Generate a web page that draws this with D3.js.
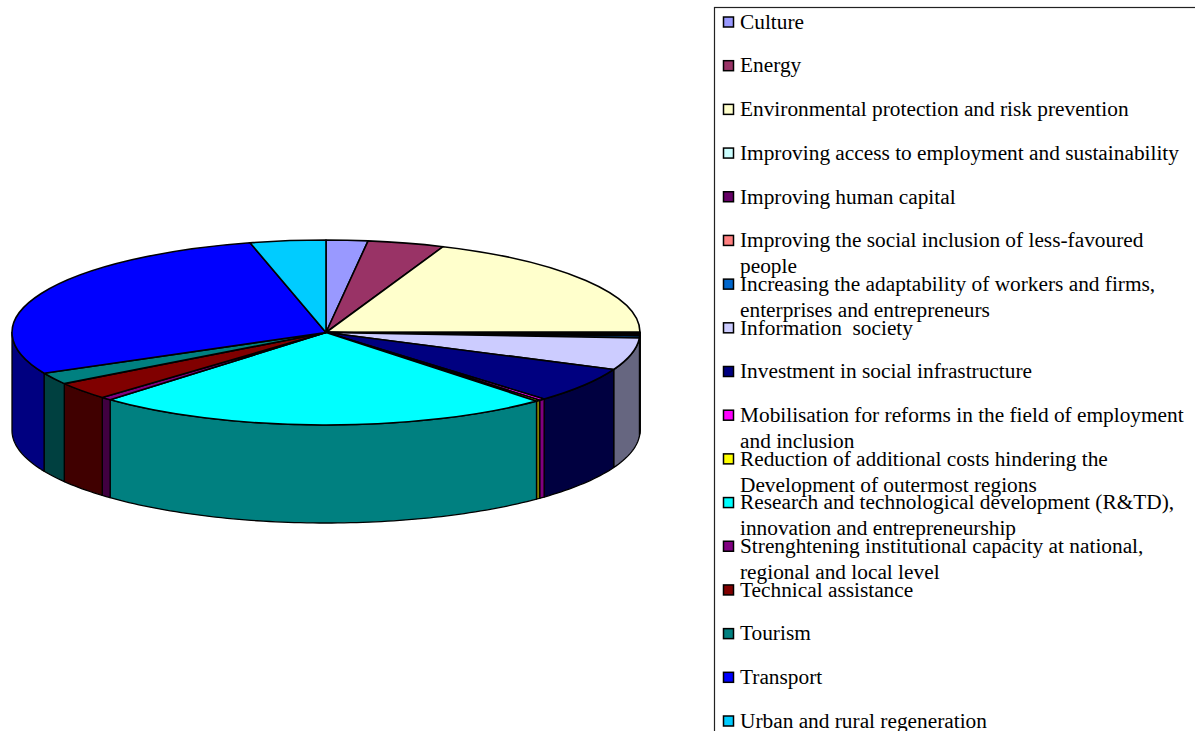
<!DOCTYPE html>
<html><head><meta charset="utf-8">
<script src="https://cdnjs.cloudflare.com/ajax/libs/d3/7.9.0/d3.min.js"></script>
<style>html,body{margin:0;padding:0;background:#fff;overflow:hidden}svg{display:block}</style>
</head><body><svg id="c" width="1195" height="731"></svg>
<script>
const categories = ["Culture","Energy","Environmental protection and risk prevention","Improving access to employment and sustainability","Improving human capital","Improving the social inclusion of less-favoured people","Increasing the adaptability of workers and firms, enterprises and entrepreneurs","Information  society","Investment in social infrastructure","Mobilisation for reforms in the field of employment and inclusion","Reduction of additional costs hindering the Development of outermost regions","Research and technological development (R&TD), innovation and entrepreneurship","Strenghtening institutional capacity at national, regional and local level","Technical assistance","Tourism","Transport","Urban and rural regeneration"];
const values = [2.14,3.94,18.86,0.16,0.32,0.16,0.36,5.61,6.22,0.31,0.22,23.75,0.56,3.06,2.06,28.36,3.89];
const topColors = ["#9999FF","#993366","#FFFFCC","#CCFFFF","#660066","#FF8080","#0066CC","#CCCCFF","#000080","#FF00FF","#FFFF00","#00FFFF","#800080","#800000","#008080","#0000FF","#00CCFF"];
const sideColors = ["#4D4D80","#4D1A33","#808066","#668080","#330033","#804040","#003366","#666680","#000040","#800080","#808000","#008080","#400040","#400000","#004040","#000080","#006680"];
const legendLines = [["Culture"],["Energy"],["Environmental protection and risk prevention"],["Improving access to employment and sustainability"],["Improving human capital"],["Improving the social inclusion of less-favoured","people"],["Increasing the adaptability of workers and firms,","enterprises and entrepreneurs"],["Information  society"],["Investment in social infrastructure"],["Mobilisation for reforms in the field of employment","and inclusion"],["Reduction of additional costs hindering the","Development of outermost regions"],["Research and technological development (R&TD),","innovation and entrepreneurship"],["Strenghtening institutional capacity at national,","regional and local level"],["Technical assistance"],["Tourism"],["Transport"],["Urban and rural regeneration"]];

const svg = d3.select("#c");
const cx=326, cy=332.5, rx=314, ry=92.5, depth=98;
const arcs = d3.pie().sort(null).value(d=>d)(values);
const px = a => cx + rx*Math.sin(a), py = a => cy - ry*Math.cos(a);
const arcGen = d3.arc().innerRadius(0).outerRadius(rx);

// side wall, visible between 90 and 270 degrees
const sideG = svg.append("g");
const lo=Math.PI/2, hi=3*Math.PI/2;
arcs.forEach((a,i)=>{
  const s=Math.max(a.startAngle,lo), e=Math.min(a.endAngle,hi);
  if(e<=s) return;
  const n=Math.max(2,Math.ceil((e-s)/0.02));
  const ts=d3.range(n+1).map(k=>s+(e-s)*k/n);
  const pts=ts.map(t=>[px(t),py(t)]).concat(ts.slice().reverse().map(t=>[px(t),py(t)+depth]));
  sideG.append("path").attr("d",d3.line()(pts)+"Z").attr("fill",sideColors[i])
    .attr("stroke","#000").attr("stroke-width",1.3).attr("stroke-linejoin","round");
});
// top face
const topG = svg.append("g").attr("transform",`translate(${cx},${cy}) scale(1,${ry/rx})`);
topG.selectAll("path").data(arcs).join("path").attr("d",arcGen)
  .attr("fill",(d,i)=>topColors[i]).attr("stroke","#000").attr("stroke-width",1.6)
  .attr("stroke-linejoin","round").attr("vector-effect","non-scaling-stroke");

// legend
const legend = svg.append("g");
legend.append("rect").attr("x",714.5).attr("y",7.5).attr("width",600).attr("height",800)
  .attr("fill","none").attr("stroke","#222").attr("stroke-width",1.2);
const rowY = d3.scaleLinear().domain([0,16]).range([22,721]);
const rows = legend.selectAll("g").data(legendLines).join("g");
rows.append("rect").attr("x",723.5).attr("width",10).attr("height",10)
  .attr("y",(d,i)=>rowY(i)-5).attr("fill",(d,i)=>topColors[i]).attr("stroke","#000").attr("stroke-width",1.5);
rows.each(function(lines,i){
  d3.select(this).selectAll("text").data(lines).join("text")
    .attr("x",740).attr("y",(l,j)=>rowY(i)+6.8+j*26)
    .attr("font-family","'Liberation Serif',serif").attr("font-size",21.33).attr("fill","#000")
    .attr("xml:space","preserve").style("white-space","pre").text(l=>l);
});
</script></body></html>
